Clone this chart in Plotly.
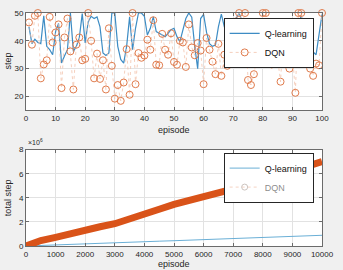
import plotly.graph_objects as go

# ---------------- data ----------------
episodes = list(range(1, 101))

q_steps = [45, 39, 40.6, 39.4, 39, 49, 38, 36.8, 35, 43.3,
           46.2, 32, 34.5, 36.8, 50, 36.2, 38, 41, 49.8, 39.2,
           46.8, 48.8, 48, 48.6, 45, 35.6, 34.7, 35.6, 50, 50,
           38, 33.3, 32, 38, 48.6, 36.8, 44.5, 50, 50, 48.8,
           42.1, 44.5, 48.6, 43.3, 42.7, 42.1, 41.5, 42.7, 44, 44.5,
           41.5, 39.7, 44, 48, 50, 48.5, 38, 30, 48, 49.5,
           43, 39, 38, 38.5, 45, 49.6, 45, 42, 40, 44,
           48, 50, 47, 42, 44, 38, 33, 36, 34, 42,
           48, 46, 41, 44, 40, 36, 35, 42, 47, 45,
           41, 46, 49, 44, 40, 43, 36, 35, 42, 49.5]

dqn_steps = [46.6, 38.6, 49, 50, 26.5, 31.5, 33, 48.6, 39.4, 43,
             45.9, 23, 41.2, 48, 36.2, 22.5, 38.6, 41.2, 33, 33.5,
             50, 40, 26.5, 35.4, 26.3, 33, 22.5, 44.5, 31, 19.2,
             24.1, 18.4, 25, 37, 20.6, 50, 24.4, 35.6, 33.9, 34.7,
             40.4, 36.8, 47.4, 31.4, 31.2, 42.5, 36.8, 35, 42.7, 32.4,
             31.4, 40, 39.4, 30.6, 45.9, 37.6, 34.8, 39.2, 36.5, 24.4,
             41, 36.8, 32.5, 28, 38.9, 27.4, 35, 31, 40, 45,
             47, 50, 46, 50, 25.9, 24.1, 28, 33.5, 40, 50,
             50, 44, 31.5, 42, 34.5, 25.3, 45, 31.9, 30, 35.6,
             21.3, 50, 50, 36.2, 41, 30, 27.4, 31.8, 31.2, 50]

total_episodes = [0, 500, 1000, 1500, 2000, 2500, 3000, 3500, 4000, 4500, 5000,
                  5500, 6000, 6500, 7000, 7500, 8000, 8500, 9000, 9500, 10000]
q_total = [0, 0.05e6, 0.1e6, 0.145e6, 0.19e6, 0.235e6, 0.28e6, 0.32e6, 0.36e6, 0.40e6, 0.44e6,
           0.485e6, 0.53e6, 0.575e6, 0.62e6, 0.665e6, 0.71e6, 0.755e6, 0.8e6, 0.845e6, 0.89e6]
dqn_total = [0, 0.45e6, 0.72e6, 1.05e6, 1.35e6, 1.6e6, 1.85e6, 2.2e6, 2.6e6, 3.05e6, 3.45e6,
             3.75e6, 4.05e6, 4.35e6, 4.7e6, 5.05e6, 5.45e6, 5.85e6, 6.25e6, 6.6e6, 7.0e6]

top_xticks = list(range(0, 101, 10))
top_yticks = [20, 30, 40, 50]
bot_xticks = list(range(0, 10001, 1000))
bot_xticktext = [str(v) for v in bot_xticks]
bot_yticks = [0, 2e6, 4e6, 6e6, 8e6]
bot_yticktext = ['0', '2', '4', '6', '8']

ORANGE = '#D95319'
TXT = '#262626'
FONT = 'Liberation Sans, Arial, sans-serif'

fig = go.Figure()

fig.add_trace(go.Scatter(x=episodes, y=q_steps, mode='lines', name='Q-learning',
                         line=dict(color='#3D8CC4', width=1.2),
                         xaxis='x', yaxis='y', legend='legend'))
fig.add_trace(go.Scatter(x=episodes, y=dqn_steps, mode='lines+markers', name='DQN',
                         line=dict(color='#F2C3AC', width=0.8, dash='dot'),
                         marker=dict(symbol='circle-open', size=7, color='#E07B4C',
                                     line=dict(width=1)),
                         cliponaxis=False,
                         xaxis='x', yaxis='y', legend='legend'))

fig.add_trace(go.Scatter(x=total_episodes, y=q_total, mode='lines', name='Q-learning',
                         line=dict(color='#6AAFD6', width=1),
                         xaxis='x2', yaxis='y2', legend='legend2'))
fig.add_trace(go.Scatter(x=total_episodes, y=dqn_total, mode='lines', name='DQN',
                         line=dict(color=ORANGE, width=7),
                         showlegend=False,
                         xaxis='x2', yaxis='y2'))
fig.add_trace(go.Scatter(x=total_episodes, y=dqn_total, mode='lines+markers', name='DQN',
                         line=dict(color='#EBA888', width=1, dash='dot'),
                         marker=dict(symbol='circle-open', size=6, color='#9a8a80'),
                         visible='legendonly',
                         xaxis='x2', yaxis='y2', legend='legend2'))

axis_common = dict(showgrid=True, gridcolor='#e2e2e2', gridwidth=1,
                   ticks='inside', ticklen=3, tickcolor='#6b6b6b',
                   showline=True, mirror='ticks', linecolor='#6b6b6b', linewidth=1,
                   zeroline=False, tickfont=dict(size=8, color=TXT, family=FONT))

top_dom = [(246 - 108) / 237, 1.0]
bot_dom = [0.0, (246 - 148) / 237]

leg_common = dict(xanchor='left', yanchor='top',
                  bgcolor='white', bordercolor='#262626', borderwidth=1,
                  font=dict(size=9, color='#111', family=FONT),
                  tracegroupgap=0, itemwidth=30)

fig.update_layout(
    width=343, height=270,
    margin=dict(l=26, r=16, t=9, b=24),
    paper_bgcolor='#f0f0f0', plot_bgcolor='white',
    font=dict(family=FONT, color=TXT),
    xaxis=dict(domain=[0, 1], anchor='y', range=[0, 100], tickvals=top_xticks, **axis_common),
    yaxis=dict(domain=top_dom, anchor='x', range=[15, 50], tickvals=top_yticks, **axis_common),
    xaxis2=dict(domain=[0, 1], anchor='y2', range=[0, 10000], tickvals=bot_xticks,
                ticktext=bot_xticktext, **axis_common),
    yaxis2=dict(domain=bot_dom, anchor='x2', range=[0, 8e6], tickvals=bot_yticks,
                ticktext=bot_yticktext, **axis_common),
    legend=dict(x=(227 - 26) / 301, y=(246 - 14) / 237, **leg_common),
    legend2=dict(x=(227 - 26) / 301, y=(246 - 151) / 237, **leg_common),
    showlegend=True,
)

ann_font = dict(size=9, color=TXT, family=FONT)
fig.add_annotation(text='step', xref='paper', yref='paper', x=(8 - 26) / 301, y=(246 - 58) / 237,
                   textangle=-90, showarrow=False, font=ann_font, xanchor='center', yanchor='middle')
fig.add_annotation(text='episode', xref='paper', yref='paper', x=0.5, y=(246 - 128) / 237,
                   showarrow=False, font=ann_font, xanchor='center', yanchor='middle')
fig.add_annotation(text='total step', xref='paper', yref='paper', x=(8 - 26) / 301, y=(246 - 197) / 237,
                   textangle=-90, showarrow=False, font=ann_font, xanchor='center', yanchor='middle')
fig.add_annotation(text='episode', xref='paper', yref='paper', x=0.5, y=(246 - 264) / 237,
                   showarrow=False, font=ann_font, xanchor='center', yanchor='middle')
fig.add_annotation(text='×10<sup>6</sup>', xref='paper', yref='paper', x=0.0, y=(246 - 146) / 237,
                   showarrow=False, font=dict(size=7, color=TXT, family=FONT),
                   xanchor='left', yanchor='bottom')

fig.write_html('out.html')
